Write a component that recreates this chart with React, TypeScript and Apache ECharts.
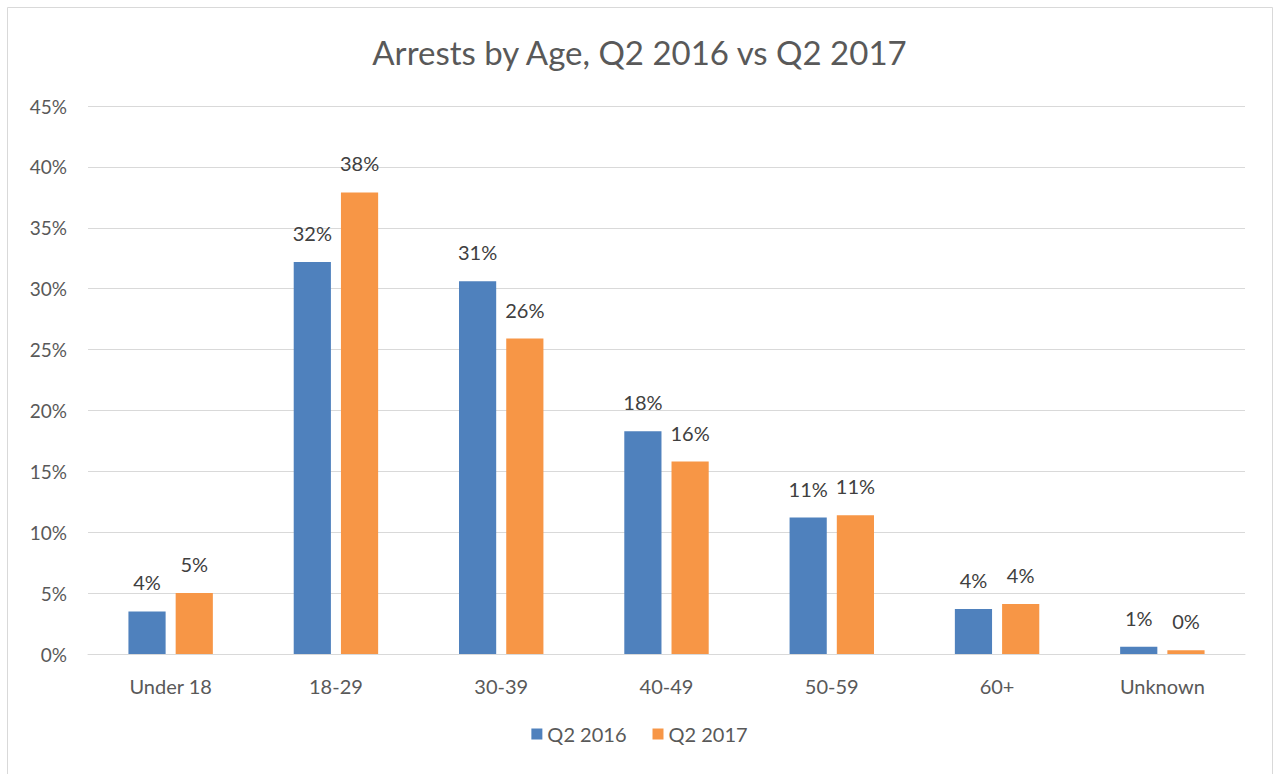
import React, { useEffect, useRef } from "react";
import * as echarts from "echarts";

const categories = ["Under 18", "18-29", "30-39", "40-49", "50-59", "60+", "Unknown"];
const q2016 = [3.5, 32.2, 30.6, 18.3, 11.2, 3.7, 0.6];
const q2017 = [5.0, 37.9, 25.9, 15.8, 11.4, 4.1, 0.3];
const seriesNames = ["Q2 2016", "Q2 2017"];
const FONT = "Lato, 'Open Sans', sans-serif";

export default function App() {
  const ref = useRef<HTMLDivElement>(null);
  useEffect(() => {
    if (!ref.current) return;
    const chart = echarts.init(ref.current, null, { renderer: "svg" });
    const label = {
      show: true,
      position: "top",
      distance: 19,
      color: "#404040",
      fontSize: 20,
      fontFamily: FONT,
      formatter: (p: any) => Math.round(p.value) + "%",
    };
    chart.setOption({
      animation: false,
      backgroundColor: "#ffffff",
      title: {
        text: "Arrests by Age, Q2 2016 vs Q2 2017",
        left: "center",
        top: 30,
        textStyle: { color: "#595959", fontSize: 33, fontWeight: "normal", fontFamily: FONT },
      },
      graphic: [
        {
          type: "rect",
          shape: { x: 7.5, y: 7.5, width: 1265, height: 790 },
          style: { fill: "none", stroke: "#d9d9d9", lineWidth: 1 },
          silent: true,
        },
      ],
      legend: {
        data: seriesNames,
        bottom: 25,
        left: "center",
        itemWidth: 11,
        itemHeight: 11,
        itemGap: 26,
        icon: "rect",
        textStyle: { color: "#595959", fontSize: 20, fontFamily: FONT },
      },
      grid: { left: 88, right: 34, top: 106, bottom: 120, containLabel: false },
      xAxis: {
        type: "category",
        data: categories,
        axisLine: { show: true, lineStyle: { color: "#d9d9d9" } },
        axisTick: { show: false },
        axisLabel: { color: "#595959", fontSize: 20, fontFamily: FONT, margin: 22 },
      },
      yAxis: {
        type: "value",
        min: 0,
        max: 45,
        interval: 5,
        axisLine: { show: false },
        axisTick: { show: false },
        splitLine: { lineStyle: { color: "#d9d9d9" } },
        axisLabel: {
          color: "#595959",
          fontSize: 19,
          fontFamily: FONT,
          margin: 21,
          formatter: (v: number) => v + "%",
        },
      },
      series: [
        {
          name: seriesNames[0],
          type: "bar",
          data: q2016,
          barWidth: "22.5%",
          barGap: "27%",
          itemStyle: { color: "#4f81bd" },
          label,
        },
        {
          name: seriesNames[1],
          type: "bar",
          data: q2017,
          barWidth: "22.5%",
          itemStyle: { color: "#f79646" },
          label,
        },
      ],
    });
    return () => chart.dispose();
  }, []);
  return (
    <div
      ref={ref}
      style={{ position: "absolute", left: 0, top: 0, width: 1279, height: 774 }}
    />
  );
}
